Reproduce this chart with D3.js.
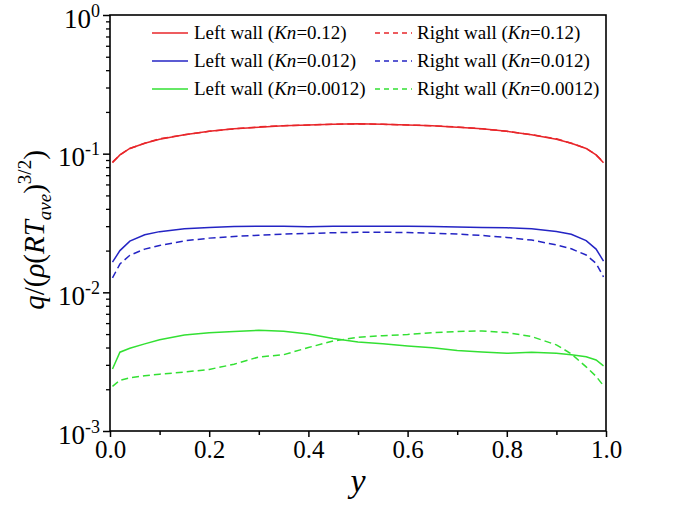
<!DOCTYPE html>
<html>
<head>
<meta charset="utf-8">
<script src="https://cdn.jsdelivr.net/npm/d3@7"></script>
<style>
  html, body { margin: 0; padding: 0; background: #fff; }
  svg { display: block; }
  svg text { font-family: "Liberation Serif", "Times New Roman", serif !important; }
</style>
</head>
<body>
<svg id="chart" width="689" height="508"></svg>
<script>
// ---------- data ----------
const yPos = [0.005, 0.02, 0.04, 0.07, 0.1, 0.15, 0.2, 0.25, 0.3, 0.35, 0.4, 0.45, 0.5,
              0.55, 0.6, 0.65, 0.7, 0.75, 0.8, 0.85, 0.9, 0.93, 0.96, 0.98, 0.995];

const leftKn012 = [0.086, 0.098, 0.109, 0.119, 0.127, 0.137, 0.145, 0.151, 0.155, 0.159, 0.161, 0.163, 0.164,
                   0.163, 0.161, 0.159, 0.155, 0.151, 0.145, 0.137, 0.127, 0.119, 0.109, 0.098, 0.086];
const rightKn012 = [0.087, 0.098, 0.109, 0.119, 0.128, 0.137, 0.145, 0.151, 0.156, 0.159, 0.161, 0.163, 0.164,
                    0.163, 0.161, 0.159, 0.156, 0.151, 0.145, 0.137, 0.128, 0.119, 0.109, 0.098, 0.087];

const leftKn0012 = [0.0165, 0.0200, 0.0234, 0.0260, 0.0274, 0.0287, 0.0294, 0.0298, 0.0300, 0.0299, 0.0297, 0.0299, 0.0300,
                    0.0299, 0.0300, 0.0298, 0.0296, 0.0293, 0.0292, 0.0288, 0.0275, 0.0262, 0.0236, 0.0205, 0.0168];
const rightKn0012 = [0.0127, 0.0160, 0.0185, 0.0205, 0.0218, 0.0235, 0.0246, 0.0253, 0.0258, 0.0263, 0.0266, 0.0269, 0.0271,
                     0.0271, 0.0270, 0.0267, 0.0263, 0.0257, 0.0249, 0.0238, 0.0220, 0.0206, 0.0186, 0.0162, 0.0129];

const leftKn00012 = [0.00280, 0.00370, 0.00395, 0.00425, 0.00455, 0.00492, 0.00512, 0.00522, 0.00532, 0.00525, 0.00500, 0.00465, 0.00438,
                     0.00426, 0.00411, 0.00398, 0.00381, 0.00372, 0.00363, 0.00370, 0.00364, 0.00355, 0.00343, 0.00325, 0.00295];
const rightKn00012 = [0.00210, 0.00232, 0.00242, 0.00250, 0.00257, 0.00266, 0.00278, 0.00303, 0.00342, 0.00355, 0.00400, 0.00446, 0.00474,
                      0.00487, 0.00497, 0.00512, 0.00522, 0.00527, 0.00513, 0.00480, 0.00418, 0.00360, 0.00290, 0.00248, 0.00212];

const seriesNames = ["Left wall", "Right wall", "Left wall", "Right wall", "Left wall", "Right wall"];
const seriesKn = ["0.12", "0.12", "0.012", "0.012", "0.0012", "0.0012"];
const seriesValues = [leftKn012, rightKn012, leftKn0012, rightKn0012, leftKn00012, rightKn00012];
const seriesColors = ["#e8262a", "#e8262a", "#2424c4", "#2424c4", "#33e033", "#33e033"];
const seriesDashed = [false, true, false, true, false, true];

const xTicks = [0, 0.2, 0.4, 0.6, 0.8, 1.0];
const xMinorTicks = [0.1, 0.3, 0.5, 0.7, 0.9];
const yTicks = [1, 0.1, 0.01, 0.001];
const yTickExponents = ["0", "-1", "-2", "-3"];

// ---------- layout ----------
const svg = d3.select("#chart");
const L = 110, R = 606, T = 15, B = 431;

const x = d3.scaleLinear().domain([0, 1]).range([L, R]);
const y = d3.scaleLog().domain([0.001, 1]).range([B, T]);

const yMinor = [];
[0.001, 0.01, 0.1].forEach(d => { for (let k = 2; k <= 9; k++) yMinor.push(d * k); });

// ---------- curves ----------
const line = d3.line().x(d => x(d[0])).y(d => y(d[1]));
const plot = svg.append("g");
seriesValues.forEach((vals, i) => {
  plot.append("path")
    .datum(yPos.map((p, j) => [p, vals[j]]))
    .attr("d", line)
    .attr("fill", "none")
    .attr("stroke", seriesColors[i])
    .attr("stroke-width", 1.5)
    .attr("stroke-dasharray", seriesDashed[i] ? "7,4" : null);
});

// ---------- frame ----------
svg.append("rect").attr("x", L).attr("y", T).attr("width", R - L).attr("height", B - T)
  .attr("fill", "none").attr("stroke", "#000").attr("stroke-width", 1.6);

// ---------- axes ----------
const xAxis = svg.append("g").attr("transform", `translate(0,${B})`)
  .call(d3.axisBottom(x).tickValues(xTicks).tickSize(6).tickPadding(3).tickFormat(d3.format(".1f")));
xAxis.select(".domain").remove();
xAxis.selectAll(".tick line").attr("stroke-width", 1.5);
xAxis.selectAll(".tick text").attr("font-size", 25).attr("fill", "#000");

const xAxisMinor = svg.append("g").attr("transform", `translate(0,${B})`)
  .call(d3.axisBottom(x).tickValues(xMinorTicks).tickSize(4).tickFormat(""));
xAxisMinor.select(".domain").remove();
xAxisMinor.selectAll(".tick line").attr("stroke-width", 1.5);

const yAxis = svg.append("g").attr("transform", `translate(${L},0)`)
  .call(d3.axisLeft(y).tickValues(yTicks).tickSize(7).tickPadding(3).tickFormat(""));
yAxis.select(".domain").remove();
yAxis.selectAll(".tick line").attr("stroke-width", 1.5);
yAxis.selectAll(".tick text").each(function(d) {
  const t = d3.select(this).text(null)
    .attr("font-size", 27).attr("fill", "#000")
    .attr("dy", "0.45em");
  t.append("tspan").text("10");
  t.append("tspan").attr("font-size", 18).attr("dy", "-0.62em").text(yTickExponents[yTicks.indexOf(d)]);
});

const yAxisMinor = svg.append("g").attr("transform", `translate(${L},0)`)
  .call(d3.axisLeft(y).tickValues(yMinor).tickSize(4).tickFormat(""));
yAxisMinor.select(".domain").remove();
yAxisMinor.selectAll(".tick line").attr("stroke-width", 1.3);

// ---------- axis titles ----------
svg.append("text").attr("x", (L + R) / 2).attr("y", 492)
  .attr("text-anchor", "middle").attr("font-size", 34).attr("font-style", "italic").text("y");

const yt = svg.append("text")
  .attr("transform", "translate(44,230) rotate(-90)")
  .attr("text-anchor", "middle").attr("font-size", 29);
yt.append("tspan").attr("font-style", "italic").text("q");
yt.append("tspan").text("/(");
yt.append("tspan").attr("font-style", "italic").text("ρ");
yt.append("tspan").text("(");
yt.append("tspan").attr("font-style", "italic").text("RT");
yt.append("tspan").attr("font-style", "italic").attr("font-size", 19).attr("dy", 7).text("ave");
yt.append("tspan").attr("dy", -7).text(")");
yt.append("tspan").attr("font-size", 19).attr("dy", -13).text("3/2");
yt.append("tspan").attr("dy", 13).text(")");

// ---------- legend ----------
const legendRows = [33, 61, 89];
const legendCols = [{ x1: 152, x2: 188, tx: 194 }, { x1: 375, x2: 412, tx: 417 }];
seriesValues.forEach((_, i) => {
  const row = Math.floor(i / 2), col = legendCols[i % 2];
  const ly = legendRows[row];
  svg.append("line").attr("x1", col.x1).attr("x2", col.x2).attr("y1", ly).attr("y2", ly)
    .attr("stroke", seriesColors[i]).attr("stroke-width", 1.5)
    .attr("stroke-dasharray", seriesDashed[i] ? "5,4" : null);
  const t = svg.append("text").attr("x", col.tx).attr("y", ly + 6).attr("font-size", 19).attr("fill", "#000");
  t.append("tspan").text(seriesNames[i] + " (");
  t.append("tspan").attr("font-style", "italic").text("Kn");
  t.append("tspan").text("=" + seriesKn[i] + ")");
});
</script>
</body>
</html>
